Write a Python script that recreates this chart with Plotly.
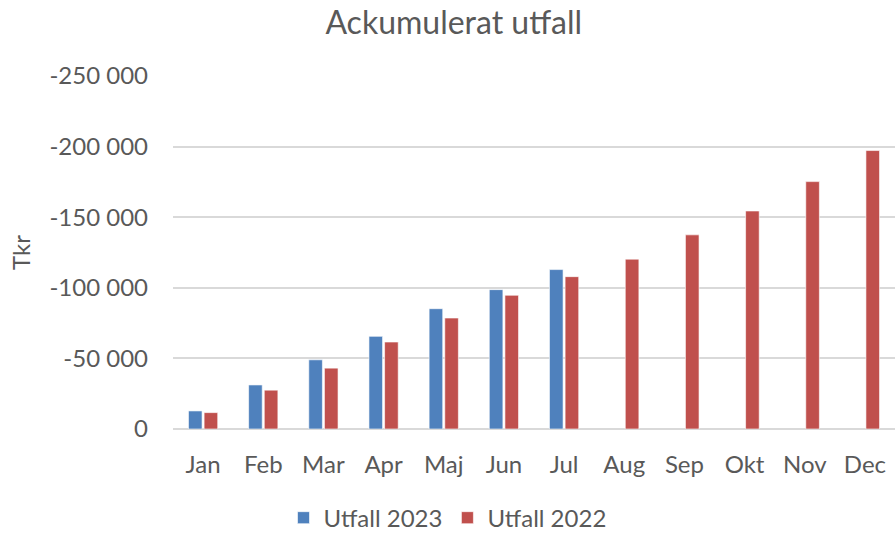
import plotly.graph_objects as go

# -- datos del grafico (Tkr, valores negativos)
manader = ['Jan', 'Feb', 'Mar', 'Apr', 'Maj', 'Jun', 'Jul', 'Aug', 'Sep', 'Okt', 'Nov', 'Dec']
utfall_2023 = [-12800, -31200, -49000, -65600, -85200, -98700, -112900,
               None, None, None, None, None]
utfall_2022 = [-11600, -27500, -43100, -61600, -78600, -94700, -107900,
               -120300, -137500, -154400, -175200, -197200]
y_ticks = [0, -50000, -100000, -150000, -200000, -250000]
y_ticktext = ['0', '-50 000', '-100 000', '-150 000', '-200 000', '-250 000']

gris = '#595959'
fuente = 'Lato, Open Sans, sans-serif'

fig = go.Figure()

fig.add_trace(go.Bar(x=manader, y=utfall_2023, name='Utfall 2023',
                     marker=dict(color='#4F81BD',
                                 line=dict(color='rgba(255,255,255,0.6)', width=1))))
fig.add_trace(go.Bar(x=manader, y=utfall_2022, name='Utfall 2022',
                     marker=dict(color='#C0504D',
                                 line=dict(color='rgba(255,255,255,0.6)', width=1))))

# -- titulo, ejes y leyenda
fig.update_layout(width=895, height=533,
                  margin=dict(l=173, r=0, t=76, b=104),
                  paper_bgcolor='white', plot_bgcolor='white',
                  barmode='group', bargap=0.48, bargroupgap=0.13,
                  font=dict(family=fuente, size=24, color=gris),
                  title=dict(text='Ackumulerat utfall', x=0.507, xanchor='center',
                             y=0.958, yanchor='middle',
                             font=dict(family=fuente, size=32, color=gris)),
                  showlegend=True,
                  legend=dict(orientation='h', xref='container', yref='container',
                              x=0.5, xanchor='center', y=0.028, yanchor='middle',
                              font=dict(size=24, color=gris), itemwidth=30,
                              traceorder='normal'))

fig.update_xaxes(showgrid=False, showline=False, ticks='outside', ticklen=0,
                 ticklabelstandoff=14, tickfont=dict(size=24, color=gris))
fig.update_yaxes(range=[0, -250000], tickvals=y_ticks, ticktext=y_ticktext,
                 showgrid=True, gridcolor='#D9D9D9', gridwidth=1.5,
                 zeroline=True, zerolinecolor='#D9D9D9', zerolinewidth=1.5,
                 showline=False, ticklabelstandoff=24,
                 tickfont=dict(size=24, color=gris),
                 title=dict(text='Tkr', standoff=12, font=dict(size=24, color=gris)))

# quitar el margen del body para que el grafico llene la ventana
fig.write_html("out.html", config={'displayModeBar': False},
               post_script="document.body.style.margin='0';")
